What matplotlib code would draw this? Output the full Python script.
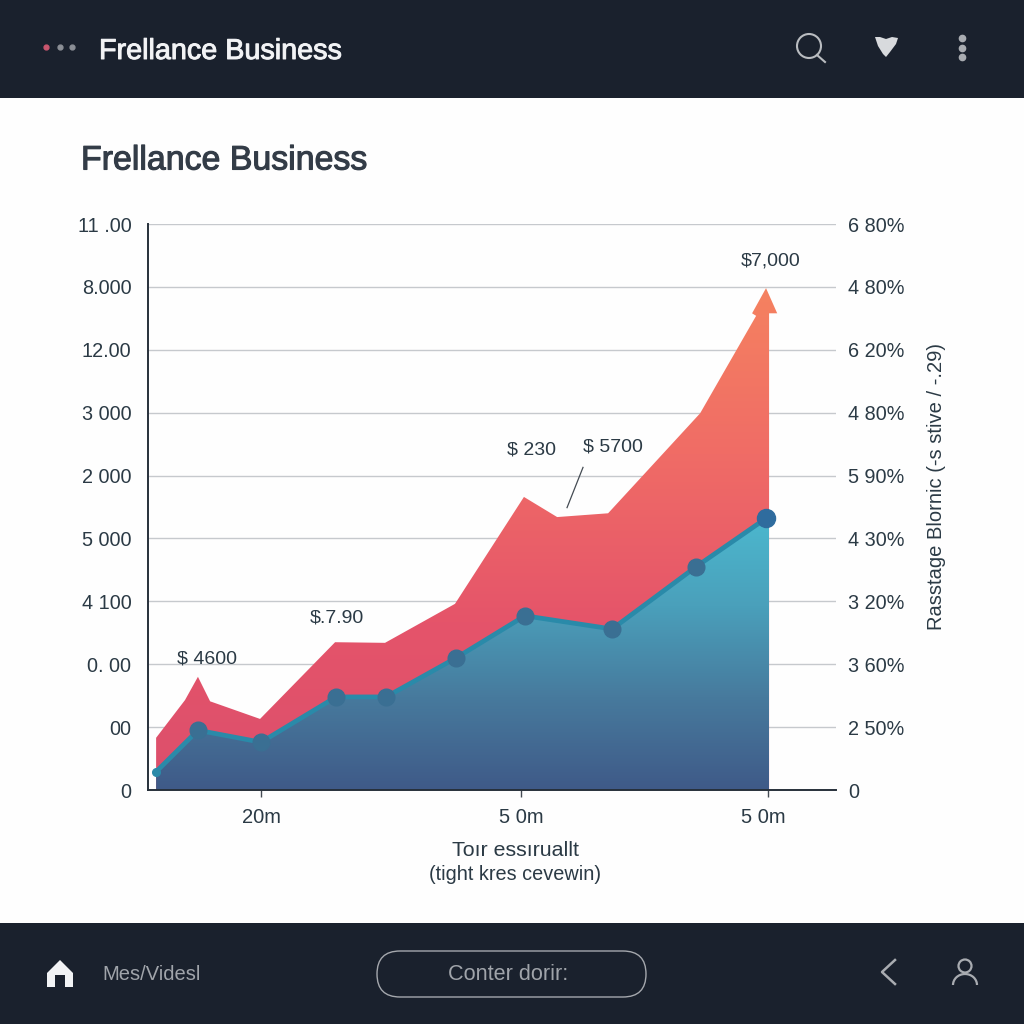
import matplotlib
matplotlib.use("Agg")
import matplotlib.pyplot as plt
import matplotlib.patches as pt
import matplotlib.patheffects as pe
import matplotlib.transforms as tr
import numpy as np
from matplotlib.colors import LinearSegmentedColormap

plt.rcParams['font.family'] = ['Liberation Sans', 'DejaVu Sans']

left_labels = ["0", "00", "0. 00", "4 100", "5 000", "2 000", "3 000", "12.00", "8.000", "11 .00"]
right_labels = ["0", "2 50%", "3 60%", "3 20%", "4 30%", "5 90%", "4 80%", "6 20%", "4 80%", "6 80%"]
x_ticks = [1, 2.025, 3]
x_labels = ["20m", "5 0m", "5 0m"]

red_x = [0.586, 0.700, 0.751, 0.799, 0.996, 1.292, 1.489, 1.765, 2.037, 2.168, 2.369, 2.732, 2.953, 2.937, 2.992, 3.036, 3.004]
red_y = [0.83, 1.43, 1.80, 1.41, 1.13, 2.35, 2.34, 2.96, 4.66, 4.34, 4.40, 5.99, 7.54, 7.58, 7.98, 7.58, 7.58]

teal_x = [0.586, 0.751, 1.0, 1.296, 1.493, 1.769, 2.041, 2.385, 2.716, 2.992]
teal_y = [0.29, 0.95, 0.76, 1.48, 1.48, 2.10, 2.77, 2.56, 3.55, 4.32]

notes = ["$ 4600", "$.7.90", "$ 230", "$ 5700", "$7,000"]
note_x = [0.786, 1.300, 2.067, 2.389, 3.01]
note_y = [2.08, 2.73, 5.41, 5.45, 8.41]

DARK = "#1a212d"
TEXT = "#2b3a45"


def gradient_fill(ax, x, y, colors, top):
	poly = pt.Polygon(np.column_stack([[x[0]] + x + [x[-1]], [0] + y + [0]]), closed=True, transform=ax.transData, fc="none", ec="none")
	ax.add_patch(poly)
	cmap = LinearSegmentedColormap.from_list("fill", colors)
	grad = np.linspace(1, 0, 256).reshape(-1, 1)
	im = ax.imshow(grad, cmap=cmap, aspect="auto", extent=[min(x), max(x), 0, top], zorder=2)
	im.set_clip_path(poly)


fig = plt.figure(figsize=(10.24, 10.24), dpi=100, facecolor="#fefefe")

# header, footer and icons, in pixels
ui = fig.add_axes([0, 0, 1, 1])
ui.set_xlim(0, 1024)
ui.set_ylim(1024, 0)
ui.axis("off")
ui.add_patch(pt.Rectangle((0, 0), 1024, 98, fc=DARK, ec="none"))
ui.add_patch(pt.Rectangle((0, 923), 1024, 101, fc=DARK, ec="none"))
ui.plot([46], [47], "o", ms=3.5, color="#c9566e")
ui.plot([60, 72], [47, 47], "o", ms=3.5, color="#8b8f96", ls="none")
t1 = ui.text(99, 51, "Frellance Business", color="#f2f3f5", fontsize=20.7, va="center")
t1.set_path_effects([pe.withStroke(linewidth=0.7, foreground="#f2f3f5")])
t2 = ui.text(81, 161, "Frellance Business", color="#333c47", fontsize=24.4, va="center")
t2.set_path_effects([pe.withStroke(linewidth=0.8, foreground="#333c47")])

ui.add_patch(pt.Circle((809, 46), 12, fc="none", ec="#b9bcc0", lw=1.5))
ui.plot([817, 825], [55, 62], color="#b9bcc0", lw=1.5)
ui.add_patch(pt.Polygon([(875, 37), (880, 37), (886, 39), (892, 37), (898, 38), (896, 44), (890, 52), (886, 57), (883, 54), (878, 46)], fc="#d8dadd", ec="none"))
ui.plot([962, 962, 962], [38, 48, 57], "o", ms=4.5, color="#a9acb1", ls="none")

ui.add_patch(pt.Polygon([(60, 960), (73, 973), (73, 987), (65, 987), (65, 975), (55, 975), (55, 987), (47, 987), (47, 973)], fc="#f2f3f5", ec="none"))
ui.text(102, 974, "Mes/Videsl", color="#a0a4aa", fontsize=14.5, va="center")
ui.add_patch(pt.FancyBboxPatch((377, 951), 269, 46, boxstyle="round,pad=0,rounding_size=23", fc="none", ec="#a5a8ad", lw=1))
ui.text(508, 974, "Conter dorir:", color="#a0a4aa", fontsize=15.6, va="center", ha="center")
ui.plot([895, 882, 895], [960, 972, 984], color="#a9acb1", lw=1.8)
ui.add_patch(pt.Circle((965, 966), 6.5, fc="none", ec="#a9acb1", lw=1.6))
ui.add_patch(pt.Arc((965, 985), 24, 22, theta1=180, theta2=360, ec="#a9acb1", lw=1.6))

# chart
ax = fig.add_axes([148 / 1024, 1 - 790 / 1024, 688 / 1024, 566 / 1024])
ax.patch.set_alpha(0)
gradient_fill(ax, red_x, red_y, ["#dc4f6c", "#e5546a", "#f06c66", "#f58260"], 8)
gradient_fill(ax, teal_x + [3.004], teal_y + [4.2], ["#3f5a88", "#477a9d", "#4aa0bb", "#4cb9cf"], 4.4)
ax.plot(teal_x, teal_y, color="#2a8aa9", lw=3.4, zorder=3, solid_joinstyle="round")
ax.plot(teal_x[1:-1], teal_y[1:-1], "o", ms=12, color="#3a6f93", zorder=4)
ax.plot(teal_x[-1:], teal_y[-1:], "o", ms=13, color="#2f6c9e", zorder=4)
ax.plot(teal_x[:1], teal_y[:1], "o", ms=5.5, color="#2a8aa9", zorder=4)

ax.set_xlim(0.554, 3.268)
ax.set_ylim(0, 9)
ax.set_yticks(range(10))
ax.set_yticklabels(left_labels, fontsize=14.3, color=TEXT)
ax.set_xticks(x_ticks)
ax.set_xticklabels(x_labels, fontsize=14.5, color=TEXT)
ax.tick_params(axis="y", length=0, pad=12)
ax.tick_params(axis="x", length=5, width=1, color="#444b53", pad=8)
# last tick label sits a little left of its tick
lab = ax.get_xticklabels()[2]
lab.set_transform(lab.get_transform() + tr.ScaledTranslation(-5 / 100, 0, fig.dpi_scale_trans))
ax.grid(axis="y", color="#c6c9cd", lw=1)
ax.set_axisbelow(True)
for s in ["top", "right"]:
	ax.spines[s].set_visible(False)
for s in ["left", "bottom"]:
	ax.spines[s].set_color("#27303a")
	ax.spines[s].set_linewidth(1.4)

right = ax.twinx()
right.set_ylim(0, 9)
right.set_yticks(range(10))
right.set_yticklabels(right_labels, fontsize=14.3, color=TEXT)
right.tick_params(axis="y", length=0, pad=9)
for s in right.spines.values():
	s.set_visible(False)

for t, x, y in zip(notes, note_x, note_y):
	ax.text(x, y, t, fontsize=14, color=TEXT, ha="center", va="center", zorder=5)
ax.plot([2.27, 2.207], [5.13, 4.49], color="#444b53", lw=0.9, zorder=5)

ui.text(516, 851, "Toır essıruallt", fontsize=15.4, color=TEXT, ha="center", va="center")
ui.text(515, 875, "(tight kres cevewin)", fontsize=14.3, color=TEXT, ha="center", va="center")
ui.text(936, 487, "Rasstage Blornic (-s stive / -.29)", fontsize=14.5, color=TEXT, rotation=90, ha="center", va="center")

fig.savefig("out.png", dpi=100)
